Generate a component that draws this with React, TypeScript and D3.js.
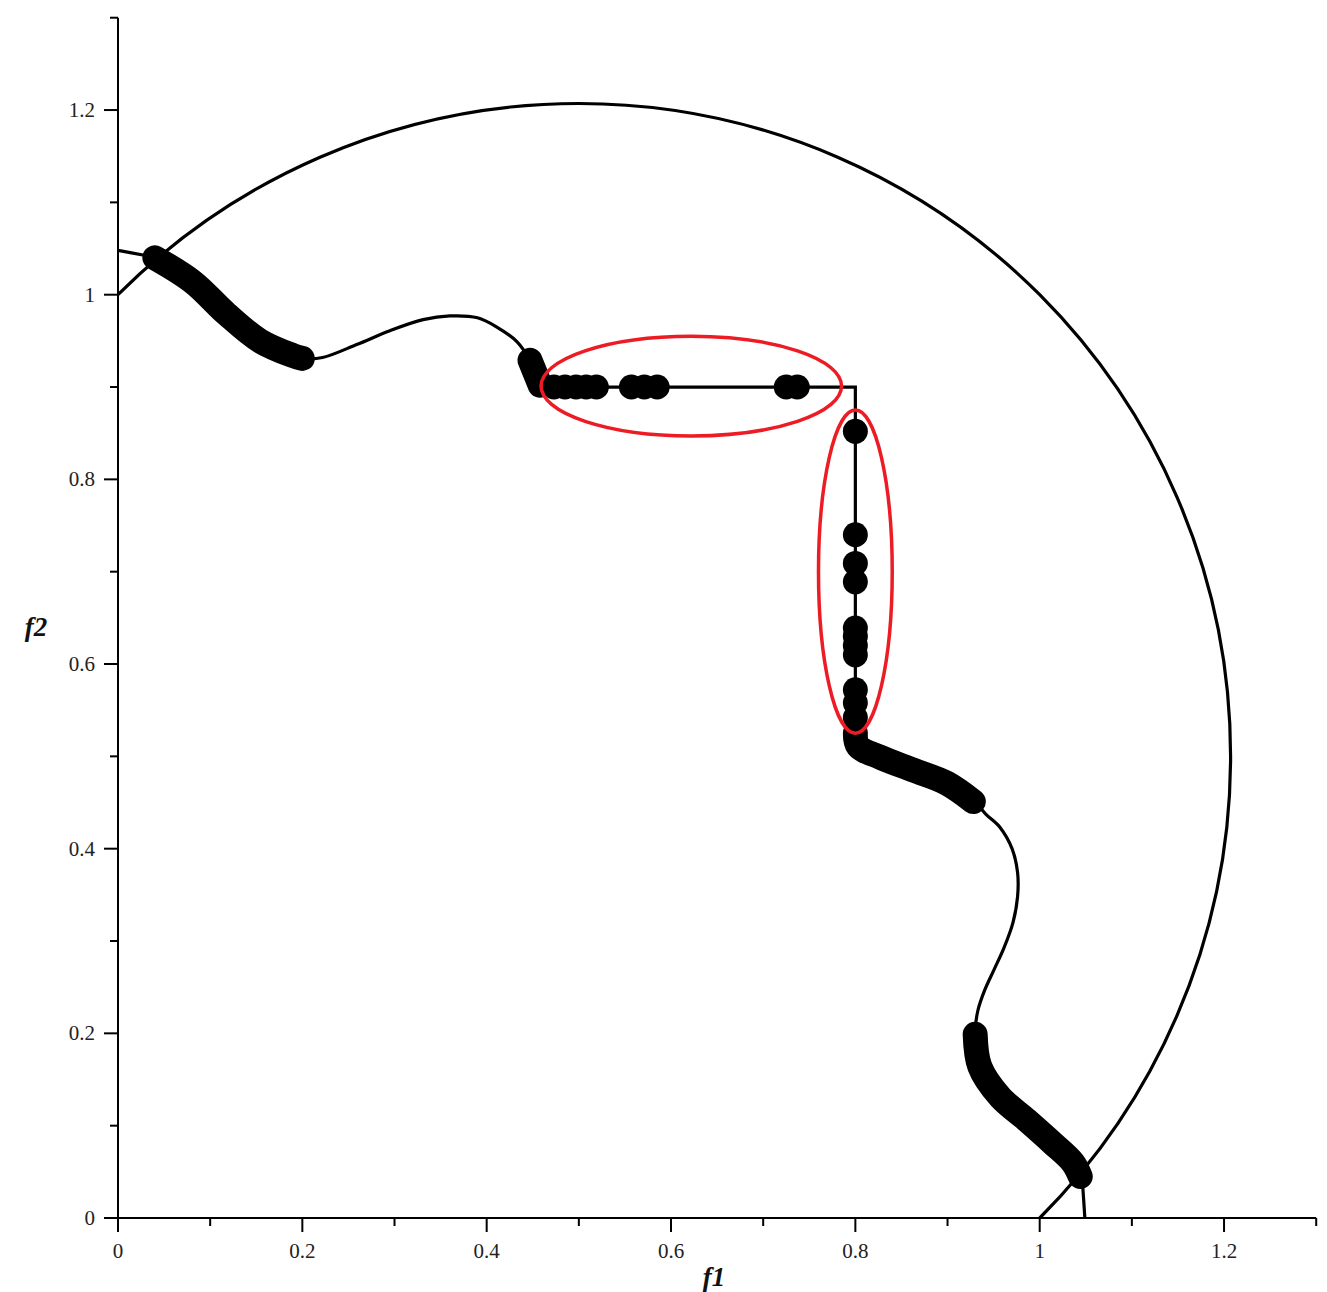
import React from "react";
import * as d3 from "d3";

const W = 1327;
const H = 1292;

// axis ticks
const majorTicks = [0, 0.2, 0.4, 0.6, 0.8, 1, 1.2];
const minorTicks = [0.1, 0.3, 0.5, 0.7, 0.9, 1.1, 1.3];
const tickLabels = ["0", "0.2", "0.4", "0.6", "0.8", "1", "1.2"];

// big constraint circle (radius, arc endpoints)
const circleRadius = 0.7071;
const arcStart: [number, number] = [0, 1];
const arcEnd: [number, number] = [1, 0];

// Pareto-front thin curve pieces
const frontLeft: [number, number][] = [
  [0, 1.048], [0.027, 1.043], [0.038, 1.041], [0.081, 1.014], [0.118, 0.979],
  [0.154, 0.95], [0.19, 0.934], [0.201, 0.931], [0.222, 0.932], [0.259, 0.946],
  [0.295, 0.961], [0.331, 0.973], [0.36, 0.977], [0.39, 0.975], [0.411, 0.965],
  [0.433, 0.949], [0.447, 0.929], [0.458, 0.905], [0.469, 0.9],
];
const frontStep: [number, number][] = [
  [0.469, 0.9], [0.8, 0.9], [0.8, 0.525],
];
const frontRight: [number, number][] = [
  [0.8, 0.525], [0.803, 0.511], [0.827, 0.499], [0.863, 0.485], [0.899, 0.471],
  [0.93, 0.45], [0.942, 0.437], [0.957, 0.423], [0.97, 0.4], [0.976, 0.374],
  [0.976, 0.348], [0.971, 0.32], [0.961, 0.292], [0.95, 0.268], [0.94, 0.246],
  [0.933, 0.225], [0.93, 0.201], [0.935, 0.164], [0.957, 0.131], [0.986, 0.106],
  [1.014, 0.081], [1.036, 0.06], [1.046, 0.043], [1.047, 0.03], [1.049, 0],
];

// dense solution bands (thick)
const band1: [number, number][] = [
  [0.04, 1.04], [0.081, 1.014], [0.118, 0.979], [0.154, 0.95], [0.19, 0.934], [0.2, 0.931],
];
const band2: [number, number][] = [[0.447, 0.929], [0.458, 0.902]];
const band3: [number, number][] = [
  [0.8, 0.525], [0.803, 0.511], [0.827, 0.499], [0.863, 0.485], [0.899, 0.471], [0.928, 0.451],
];
const band4: [number, number][] = [
  [0.93, 0.199], [0.935, 0.164], [0.957, 0.131], [0.986, 0.106], [1.014, 0.081], [1.036, 0.06], [1.044, 0.045],
];

// discrete solutions on the horizontal (f2 = 0.9) and vertical (f1 = 0.8) segments
const horizY = 0.9;
const horizDotsX = [0.473, 0.485, 0.497, 0.508, 0.519, 0.557, 0.571, 0.585, 0.725, 0.737];
const vertX = 0.8;
const vertDotsY = [0.852, 0.74, 0.709, 0.689, 0.639, 0.63, 0.62, 0.61, 0.572, 0.558, 0.542];

// red highlight ellipses: [cx, cy, rx, ry] in data units
const ellipses: [number, number, number, number][] = [
  [0.622, 0.901, 0.163, 0.054],
  [0.8, 0.7, 0.04, 0.175],
];

export default function App() {
  const x = d3.scaleLinear().domain([0, 1.3]).range([118, 118 + 1.3 * 921.7]);
  const y = d3.scaleLinear().domain([0, 1.3]).range([1218, 1218 - 1.3 * 923.3]);

  const curve = d3
    .line<[number, number]>()
    .x((d) => x(d[0]))
    .y((d) => y(d[1]))
    .curve(d3.curveCatmullRom.alpha(0.5));
  const straight = d3
    .line<[number, number]>()
    .x((d) => x(d[0]))
    .y((d) => y(d[1]));

  const rx = x(circleRadius) - x(0);
  const ry = y(0) - y(circleRadius);
  const arcPath = `M${x(arcStart[0])},${y(arcStart[1])} A${rx},${ry} 0 1 1 ${x(arcEnd[0])},${y(arcEnd[1])}`;

  const dotR = 12.5;
  const font = "'Liberation Serif', 'Times New Roman', serif";

  return (
    <svg
      width={W}
      height={H}
      style={{ position: "absolute", left: 0, top: 0, background: "#fff" }}
    >
      <rect width={W} height={H} fill="#fff" />
      {/* axes */}
      <g stroke="#000" strokeWidth={2} fill="none">
        <line x1={x(0)} y1={y(1.3)} x2={x(0)} y2={y(0) + 14} />
        <line x1={x(0) - 14} y1={y(0)} x2={x(1.3)} y2={y(0)} />
        {majorTicks.map((t) => (
          <line key={"xm" + t} x1={x(t)} x2={x(t)} y1={y(0)} y2={y(0) + 14} />
        ))}
        {minorTicks.map((t) => (
          <line key={"xn" + t} x1={x(t)} x2={x(t)} y1={y(0)} y2={y(0) + 8} />
        ))}
        {majorTicks.map((t) => (
          <line key={"ym" + t} x1={x(0) - 14} x2={x(0)} y1={y(t)} y2={y(t)} />
        ))}
        {minorTicks.map((t) => (
          <line key={"yn" + t} x1={x(0) - 8} x2={x(0)} y1={y(t)} y2={y(t)} />
        ))}
      </g>
      <g fontFamily={font} fontSize={21} fill="#222">
        {majorTicks.map((t, i) => (
          <text key={"xl" + t} x={x(t)} y={y(0) + 40} textAnchor="middle">
            {tickLabels[i]}
          </text>
        ))}
        {majorTicks.map((t, i) => (
          <text key={"yl" + t} x={x(0) - 23} y={y(t) + 7} textAnchor="end">
            {tickLabels[i]}
          </text>
        ))}
      </g>
      <text
        x={714}
        y={1286}
        fontFamily={font}
        fontSize={27}
        fontStyle="italic"
        fontWeight="bold"
        textAnchor="middle"
        fill="#111"
      >
        f1
      </text>
      <text
        x={36}
        y={636}
        fontFamily={font}
        fontSize={27}
        fontStyle="italic"
        fontWeight="bold"
        textAnchor="middle"
        fill="#111"
      >
        f2
      </text>

      {/* constraint circle */}
      <path d={arcPath} fill="none" stroke="#000" strokeWidth={3.2} />

      {/* thin front */}
      <g fill="none" stroke="#000" strokeWidth={3.2} strokeLinejoin="miter">
        <path d={curve(frontLeft) || ""} />
        <path d={straight(frontStep) || ""} />
        <path d={curve(frontRight) || ""} />
      </g>

      {/* dense bands */}
      <g fill="none" stroke="#000" strokeWidth={25} strokeLinecap="round" strokeLinejoin="round">
        {[band1, band2, band3, band4].map((b, i) => (
          <path key={"b" + i} d={curve(b) || ""} />
        ))}
      </g>

      {/* discrete dots */}
      <g fill="#000">
        {horizDotsX.map((v, i) => (
          <circle key={"h" + i} cx={x(v)} cy={y(horizY)} r={dotR} />
        ))}
        {vertDotsY.map((v, i) => (
          <circle key={"v" + i} cx={x(vertX)} cy={y(v)} r={dotR} />
        ))}
      </g>

      {/* red ellipses */}
      <g fill="none" stroke="#ed1c24" strokeWidth={3.5}>
        {ellipses.map((e, i) => (
          <ellipse
            key={"e" + i}
            cx={x(e[0])}
            cy={y(e[1])}
            rx={x(e[2]) - x(0)}
            ry={y(0) - y(e[3])}
          />
        ))}
      </g>
    </svg>
  );
}
